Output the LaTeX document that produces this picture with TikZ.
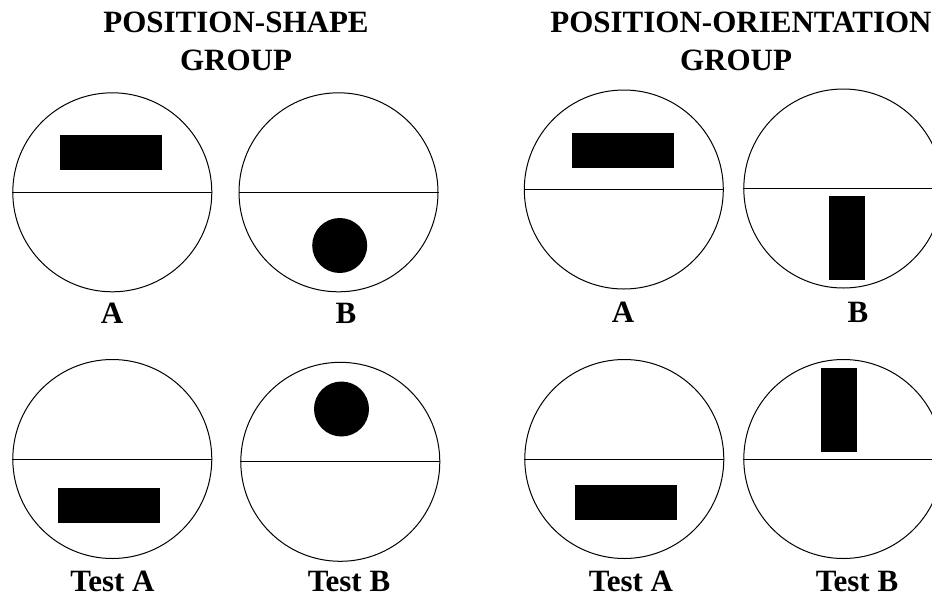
\documentclass[tikz,border=0pt]{standalone}
\usepackage{fontspec}
\setmainfont{Liberation Serif}
\usetikzlibrary{positioning}

\begin{document}
\begin{tikzpicture}[
    x=1pt, y=-1pt,
    disc/.style={circle, draw, line width=1pt, minimum size=199pt, inner sep=0pt},
    split/.style={line width=1pt},
    wide/.style={rectangle, fill=black, minimum width=102pt, minimum height=35pt, inner sep=0pt},
    tall/.style={rectangle, fill=black, minimum width=36pt, minimum height=84pt, inner sep=0pt},
    dot/.style={circle, fill=black, minimum size=55pt, inner sep=0pt},
    caption/.style={anchor=base, inner sep=0pt, font=\fontsize{31}{37}\selectfont\bfseries},
    heading/.style={anchor=base, inner sep=0pt, font=\fontsize{31}{38}\selectfont\bfseries}
]
\clip (0,0) rectangle (932,598);

% Headings
\node[heading] (psHead1) at (236,32) {POSITION-SHAPE};
\node[heading] (psHead2) at (236,70) {GROUP};
\node[heading] (poHead1) at (741,32) {POSITION-ORIENTATION};
\node[heading] (poHead2) at (736,70) {GROUP};

% Position-shape group
\node[disc] (psA) at (112.3,192.3) {};
\node[disc] (psB) at (338.5,192.3) {};
\node[disc] (psTA) at (112.3,459) {};
\node[disc] (psTB) at (340.3,461.8) {};
\foreach \c in {psA,psB,psTA,psTB}
    \draw[split] (\c.west) -- (\c.east);

\node[wide] (psAbar) at (111,152.5) {};
\node[dot] (psBdot) at (339.7,245.5) {};
\node[wide] (psTAbar) at (109,505.3) {};
\node[dot] (psTBdot) at (341.5,409) {};

\node[caption] (psAlab) at (112,323) {A};
\node[caption] (psBlab) at (346,323) {B};
\node[caption] (psTAlab) at (112.5,591) {Test A};
\node[caption] (psTBlab) at (349,591) {Test B};

% Position-orientation group
\node[disc] (poA) at (623.8,189.5) {};
\node[disc] (poB) at (843.3,188.5) {};
\node[disc] (poTA) at (624.3,459) {};
\node[disc] (poTB) at (843.3,459) {};
\foreach \c in {poA,poB,poTA,poTB}
    \draw[split] (\c.west) -- (\c.east);

\node[wide] (poAbar) at (622.5,150.5) {};
\node[tall] (poBbar) at (847,238) {};
\node[wide] (poTAbar) at (626,502.5) {};
\node[tall] (poTBbar) at (839,409.5) {};

\node[caption] (poAlab) at (623,322) {A};
\node[caption] (poBlab) at (858,322) {B};
\node[caption] (poTAlab) at (631,591) {Test A};
\node[caption] (poTBlab) at (857,591) {Test B};

\end{tikzpicture}
\end{document}
